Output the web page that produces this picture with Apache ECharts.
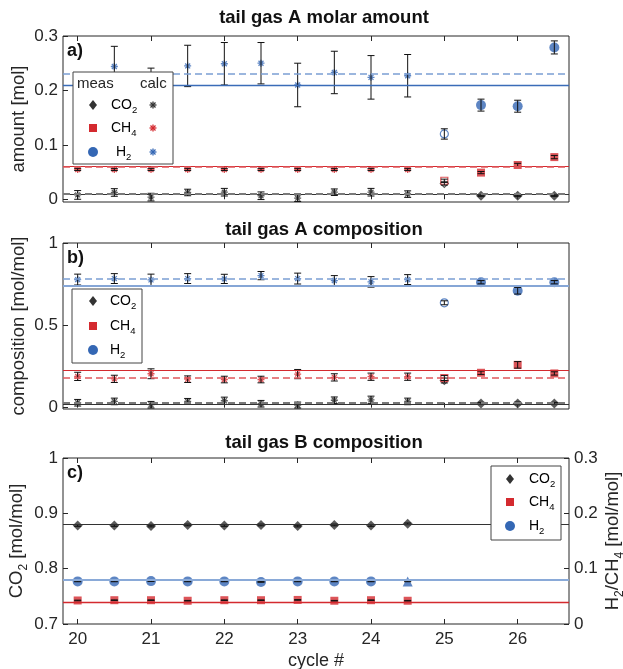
<!DOCTYPE html>
<html>
<head>
<meta charset="utf-8">
<script src="https://cdn.jsdelivr.net/npm/echarts@6/dist/echarts.min.js"></script>
<style>
  html, body { margin: 0; padding: 0; background: #fff; }
  #chart { width: 623px; height: 669px; }
</style>
</head>
<body>
<div id="chart"></div>
<script>
// cycle numbers (20 .. 26.5)
const cycles = [20, 20.5, 21, 21.5, 22, 22.5, 23, 23.5, 24, 24.5, 25, 25.5, 26, 26.5];
// index groups: calc = 0..9, open (25) = 10, meas = 11..13
const calcIdx = [0, 1, 2, 3, 4, 5, 6, 7, 8, 9];
const openIdx = [10];
const measIdx = [11, 12, 13];

// a) tail gas A molar amount [mol]
const aCO2 = [0.008, 0.0125, 0.004, 0.0125, 0.013, 0.0065, 0.002, 0.013, 0.013, 0.0095, 0.029, 0.0064, 0.0064, 0.0064];
const aCO2Err = [0.008, 0.007, 0.007, 0.006, 0.007, 0.007, 0.006, 0.006, 0.007, 0.006, 0.003, 0.001, 0.001, 0.001];
const aCH4 = [0.0548, 0.0548, 0.0548, 0.0548, 0.0548, 0.0548, 0.0548, 0.0548, 0.0548, 0.0548, 0.034, 0.049, 0.063, 0.0775];
const aCH4Err = [0.002, 0.002, 0.002, 0.002, 0.002, 0.002, 0.002, 0.002, 0.002, 0.002, 0.003, 0.002, 0.003, 0.003];
const aH2 = [0.19, 0.244, 0.204, 0.245, 0.249, 0.250, 0.210, 0.233, 0.224, 0.227, 0.120, 0.173, 0.171, 0.279];
const aH2Err = [0.037, 0.037, 0.037, 0.038, 0.039, 0.038, 0.040, 0.039, 0.040, 0.039, 0.0095, 0.011, 0.011, 0.012];
const aSolid = [0.0064, 0.0627, 0.208];   // CO2, CH4, H2
const aDashed = [0.010, 0.0554, 0.232];

// b) tail gas A composition [mol/mol]
const bCO2 = [0.03, 0.038, 0.018, 0.038, 0.042, 0.024, 0.016, 0.045, 0.048, 0.038, 0.165, 0.026, 0.026, 0.026];
const bCO2Err = [0.02, 0.02, 0.02, 0.018, 0.022, 0.02, 0.018, 0.02, 0.022, 0.02, 0.015, 0.006, 0.008, 0.006];
const bCH4 = [0.19, 0.175, 0.206, 0.173, 0.171, 0.171, 0.204, 0.184, 0.188, 0.188, 0.180, 0.212, 0.26, 0.208];
const bCH4Err = [0.025, 0.022, 0.03, 0.02, 0.02, 0.02, 0.028, 0.022, 0.022, 0.022, 0.015, 0.01, 0.02, 0.01];
const bH2 = [0.778, 0.784, 0.776, 0.784, 0.782, 0.802, 0.784, 0.772, 0.764, 0.778, 0.637, 0.762, 0.710, 0.762];
const bH2Err = [0.033, 0.03, 0.035, 0.03, 0.028, 0.025, 0.033, 0.03, 0.032, 0.03, 0.012, 0.01, 0.02, 0.01];
const bSolid = [0.022, 0.226, 0.744];
const bDashed = [0.033, 0.184, 0.78];

// c) tail gas B composition (CO2 left axis, H2 / CH4 right axis)
const cCycles = cycles.slice(0, 10);
const cCO2 = [0.878, 0.878, 0.877, 0.879, 0.878, 0.879, 0.877, 0.879, 0.878, 0.881];
const cCH4 = [0.0425, 0.043, 0.043, 0.042, 0.043, 0.043, 0.0435, 0.042, 0.043, 0.042];
const cH2 = [0.077, 0.077, 0.0775, 0.077, 0.077, 0.076, 0.077, 0.077, 0.077, 0.077];
const cLines = [0.879, 0.043, 0.077];   // CO2 (left), CH4, H2 (right)

const xTicks = [20, 21, 22, 23, 24, 25, 26];
const aTicks = [0, 0.1, 0.2, 0.3];
const bTicks = [0, 0.5, 1];

const BLUE = '#3467b4', RED = '#d42a2f', DARK = '#333333';
const FONT = '"Liberation Sans", Arial, sans-serif';
const ASTER = 'path://M0,-10L0,10M-10,0L10,0M-7.07,-7.07L7.07,7.07M-7.07,7.07L7.07,-7.07';

const chart = echarts.init(document.getElementById('chart'));

const pick = (xs, ys, idx) => idx.map(i => [xs[i], ys[i]]);
const withErr = (xs, ys, es) => xs.map((x, i) => [x, ys[i], es[i]]);

function errRender(params, api) {
  const x = api.value(0), y = api.value(1), e = api.value(2);
  const top = api.coord([x, y + e]);
  const bot = api.coord([x, y - e]);
  const w = 3.5;
  const style = { stroke: '#111', lineWidth: 1 };
  return {
    type: 'group',
    children: [
      { type: 'line', shape: { x1: top[0], y1: top[1], x2: bot[0], y2: bot[1] }, style },
      { type: 'line', shape: { x1: top[0] - w, y1: top[1], x2: top[0] + w, y2: top[1] }, style },
      { type: 'line', shape: { x1: bot[0] - w, y1: bot[1], x2: bot[0] + w, y2: bot[1] }, style }
    ]
  };
}

function errSeries(xi, yi, data) {
  return {
    type: 'custom', xAxisIndex: xi, yAxisIndex: yi, z: 4,
    renderItem: errRender, encode: { x: 0, y: 1 }, data, silent: true
  };
}

function scatter(xi, yi, data, symbol, size, color, hollow, z) {
  const itemStyle = symbol === ASTER
    ? { color: 'transparent', borderColor: color, borderWidth: 1.3 }
    : hollow
      ? { color: '#fff', borderColor: color, borderWidth: 1.2 }
      : { color: color };
  return {
    type: 'scatter', xAxisIndex: xi, yAxisIndex: yi, data, symbol, symbolSize: size,
    itemStyle, z: z || 3, silent: true
  };
}

function hline(xi, yi, value, color, width, type) {
  return {
    type: 'line', xAxisIndex: xi, yAxisIndex: yi, data: [], z: 1, silent: true,
    markLine: {
      silent: true, symbol: 'none', label: { show: false }, animation: false,
      lineStyle: { color, width, type },
      data: [{ yAxis: value }]
    }
  };
}

// one panel with calc / open / meas groups
function panelSeries(xi, yi, co2, co2e, ch4, ch4e, h2, h2e, solid, dashed, blueSolid) {
  const s = [];
  s.push(hline(xi, yi, solid[0], DARK, 1.2, 'solid'));
  s.push(hline(xi, yi, dashed[0], '#7a7a7a', 2, [7, 4]));
  s.push(hline(xi, yi, solid[1], RED, 1.2, 'solid'));
  s.push(hline(xi, yi, dashed[1], '#e0585c', 1.6, [7, 4]));
  s.push(hline(xi, yi, solid[2], blueSolid.color, blueSolid.width, 'solid'));
  s.push(hline(xi, yi, dashed[2], '#7b9ed3', 1.6, [7, 4]));
  [[co2, co2e], [ch4, ch4e], [h2, h2e]].forEach(([v, e]) => {
    s.push(errSeries(xi, yi, withErr(cycles, v, e)));
  });
  s.push(scatter(xi, yi, pick(cycles, co2, calcIdx), ASTER, 7, DARK));
  s.push(scatter(xi, yi, pick(cycles, ch4, calcIdx), ASTER, 7, RED));
  s.push(scatter(xi, yi, pick(cycles, h2, calcIdx), ASTER, 7, BLUE));
  s.push(scatter(xi, yi, pick(cycles, co2, openIdx), 'diamond', 8, DARK, true));
  s.push(scatter(xi, yi, pick(cycles, ch4, openIdx), 'rect', 7, RED, true));
  s.push(scatter(xi, yi, pick(cycles, h2, openIdx), 'circle', 8, BLUE, true));
  s.push(scatter(xi, yi, pick(cycles, co2, measIdx), 'diamond', 10, DARK));
  s.push(scatter(xi, yi, pick(cycles, ch4, measIdx), 'rect', 8, RED));
  s.push(scatter(xi, yi, pick(cycles, h2, measIdx), 'circle', 10, BLUE));
  return s;
}

const series = [].concat(
  panelSeries(0, 0, aCO2, aCO2Err, aCH4, aCH4Err, aH2, aH2Err, aSolid, aDashed, { color: '#3a6cb8', width: 1.3 }),
  panelSeries(2, 1, bCO2, bCO2Err, bCH4, bCH4Err, bH2, bH2Err, bSolid, bDashed, { color: '#86a6d6', width: 2 }),
  [
    hline(4, 2, cLines[0], DARK, 1.2, 'solid'),
    hline(4, 3, cLines[1], RED, 1.3, 'solid'),
    hline(4, 3, cLines[2], '#8aaad8', 2.2, 'solid'),
    scatter(4, 2, cCycles.map((x, i) => [x, cCO2[i]]), 'diamond', 10, DARK),
    scatter(4, 3, cCycles.map((x, i) => [x, cCH4[i]]), 'rect', 8, RED),
    scatter(4, 3, cCycles.slice(0, 9).map((x, i) => [x, cH2[i]]), 'circle', 10, BLUE),
    scatter(4, 3, [[cCycles[9], cH2[9]]], 'triangle', 10, BLUE),
    errSeries(4, 2, withErr(cCycles, cCO2, cCycles.map(() => 0.0015))),
    errSeries(4, 3, withErr(cCycles, cCH4, cCycles.map(() => 0.0006))),
    errSeries(4, 3, withErr(cCycles, cH2, cCycles.map(() => 0.0006)))
  ]
);

const labelStyle = { color: '#262626', fontSize: 17, fontFamily: FONT };
const nameStyle = { color: '#262626', fontSize: 18.5, fontFamily: FONT };
const tick = { show: true, inside: true, length: 5, lineStyle: { color: '#262626' } };

function xAx(grid, pos, showLabel) {
  return {
    type: 'value', gridIndex: grid, position: pos, min: 19.8, max: 26.7,
    axisLine: { show: false }, splitLine: { show: false },
    axisTick: Object.assign({ customValues: xTicks }, tick),
    axisLabel: Object.assign({ show: showLabel, customValues: xTicks, margin: 7 }, labelStyle)
  };
}

function yAx(grid, pos, min, max, ticks, name, nameGap, rich) {
  return {
    type: 'value', gridIndex: grid, position: pos, min, max,
    axisLine: { show: false }, splitLine: { show: false },
    axisTick: Object.assign({ customValues: ticks }, tick),
    axisLabel: Object.assign({ customValues: ticks, margin: 5 }, labelStyle),
    name, nameLocation: 'middle', nameGap, nameMoveOverlap: false,
    nameTextStyle: Object.assign({ rich: rich || {} }, nameStyle)
  };
}

const axisRich = {
  a: { fontSize: 18.5, fontFamily: FONT, color: '#262626', lineHeight: 26, verticalAlign: 'middle' },
  s: { fontSize: 12, fontFamily: FONT, color: '#262626', lineHeight: 12, verticalAlign: 'bottom' }
};
const legRich = {
  a: { fontSize: 14, fontFamily: FONT, color: '#262626', lineHeight: 20, verticalAlign: 'middle' },
  s: { fontSize: 9.5, fontFamily: FONT, color: '#262626', lineHeight: 9, verticalAlign: 'bottom' }
};

// legends drawn as graphic groups
function markerShape(kind, cx, cy, color) {
  if (kind === 'diamond') {
    return { type: 'polygon', z: 100, shape: { points: [[cx, cy - 5], [cx + 4, cy], [cx, cy + 5], [cx - 4, cy]] }, style: { fill: color } };
  }
  if (kind === 'rect') {
    return { type: 'rect', z: 100, shape: { x: cx - 4, y: cy - 4, width: 8, height: 8 }, style: { fill: color } };
  }
  if (kind === 'circle') {
    return { type: 'circle', z: 100, shape: { cx, cy, r: 5 }, style: { fill: color } };
  }
  const r = 3.5, d = 2.5;
  const st = { stroke: color, lineWidth: 1.3 };
  return {
    type: 'group', children: [
      { type: 'line', z: 100, shape: { x1: cx, y1: cy - r, x2: cx, y2: cy + r }, style: st },
      { type: 'line', z: 100, shape: { x1: cx - r, y1: cy, x2: cx + r, y2: cy }, style: st },
      { type: 'line', z: 100, shape: { x1: cx - d, y1: cy - d, x2: cx + d, y2: cy + d }, style: st },
      { type: 'line', z: 100, shape: { x1: cx - d, y1: cy + d, x2: cx + d, y2: cy - d }, style: st }
    ]
  };
}

function legendText(x, y, main, sub) {
  return {
    type: 'text', x, y, z: 100,
    style: {
      text: '{a|' + main + '}{s|' + sub + '}', rich: legRich,
      verticalAlign: 'middle', align: 'left'
    }
  };
}

const gasNames = [['CO', '2'], ['CH', '4'], ['H', '2']];
const gasKinds = ['diamond', 'rect', 'circle'];
const gasColors = [DARK, RED, BLUE];

function legendBox(x, y, w, h, rowsY, markX, textX, calcX) {
  const children = [{ type: 'rect', z: 99, shape: { x, y, width: w, height: h }, style: { fill: '#fff', stroke: '#444', lineWidth: 1 } }];
  rowsY.forEach((ry, i) => {
    children.push(markerShape(gasKinds[i], markX, ry, gasColors[i]));
    children.push(legendText(textX[i], ry, gasNames[i][0], gasNames[i][1]));
    if (calcX) children.push(markerShape('aster', calcX, ry, gasColors[i]));
  });
  return { type: 'group', children };
}

const legendA = legendBox(73, 72, 100, 92, [105, 128, 152], 93, [111, 111, 116], 153);
legendA.children.push({ type: 'text', z: 100, x: 77, y: 84, style: { text: 'meas', font: '15px ' + FONT, fill: '#262626', verticalAlign: 'middle' } });
legendA.children.push({ type: 'text', z: 100, x: 140, y: 84, style: { text: 'calc', font: '15px ' + FONT, fill: '#262626', verticalAlign: 'middle' } });
const legendB = legendBox(72, 289, 70, 74, [301, 326, 350], 93, [110, 110, 110]);
const legendC = legendBox(491, 466, 70, 74, [479, 502, 526], 510, [529, 529, 529]);

function panelTag(x, y, t) {
  return { type: 'text', x, y, z: 50, style: { text: t, font: 'bold 18px ' + FONT, fill: '#111', verticalAlign: 'middle' } };
}

const titleStyle = { fontSize: 18.5, fontWeight: 'bold', fontFamily: FONT, color: '#111' };
const gridBase = { left: 63, width: 506, height: 166, show: true, borderColor: '#262626', borderWidth: 1, backgroundColor: '#fff', outerBoundsMode: 'none' };

chart.setOption({
  animation: false,
  backgroundColor: '#fff',
  title: [
    { text: 'tail gas A molar amount', left: 324, top: 8, textAlign: 'center', textStyle: titleStyle, padding: 0 },
    { text: 'tail gas A composition', left: 324, top: 220, textAlign: 'center', textStyle: titleStyle, padding: 0 },
    { text: 'tail gas B composition', left: 324, top: 433, textAlign: 'center', textStyle: titleStyle, padding: 0 }
  ],
  grid: [
    Object.assign({ top: 36 }, gridBase),
    Object.assign({ top: 243 }, gridBase),
    Object.assign({ top: 458 }, gridBase)
  ],
  xAxis: [
    xAx(0, 'bottom', false), xAx(0, 'top', false),
    xAx(1, 'bottom', false), xAx(1, 'top', false),
    Object.assign(xAx(2, 'bottom', true), {
      name: 'cycle #', nameLocation: 'middle', nameGap: 28, nameMoveOverlap: false,
      nameTextStyle: Object.assign({}, labelStyle, { fontSize: 18 })
    }),
    xAx(2, 'top', false)
  ],
  yAxis: [
    yAx(0, 'left', -0.005, 0.3, aTicks, 'amount [mol]', 35),
    yAx(1, 'left', -0.008, 1, bTicks, 'composition [mol/mol]', 35),
    yAx(2, 'left', 0.7, 1, [0.7, 0.8, 0.9, 1], '{a|CO}{s|2}{a| [mol/mol]}', 33, axisRich),
    Object.assign(yAx(2, 'right', 0, 0.3, [0, 0.1, 0.2, 0.3], '{a|H}{s|2}{a|/CH}{s|4}{a| [mol/mol]}', 31, axisRich), { nameRotate: 90 })
  ],
  graphic: [
    panelTag(67, 51, 'a)'), panelTag(67, 258, 'b)'), panelTag(67, 473, 'c)'),
    legendA, legendB, legendC
  ],
  series
});
</script>
</body>
</html>
